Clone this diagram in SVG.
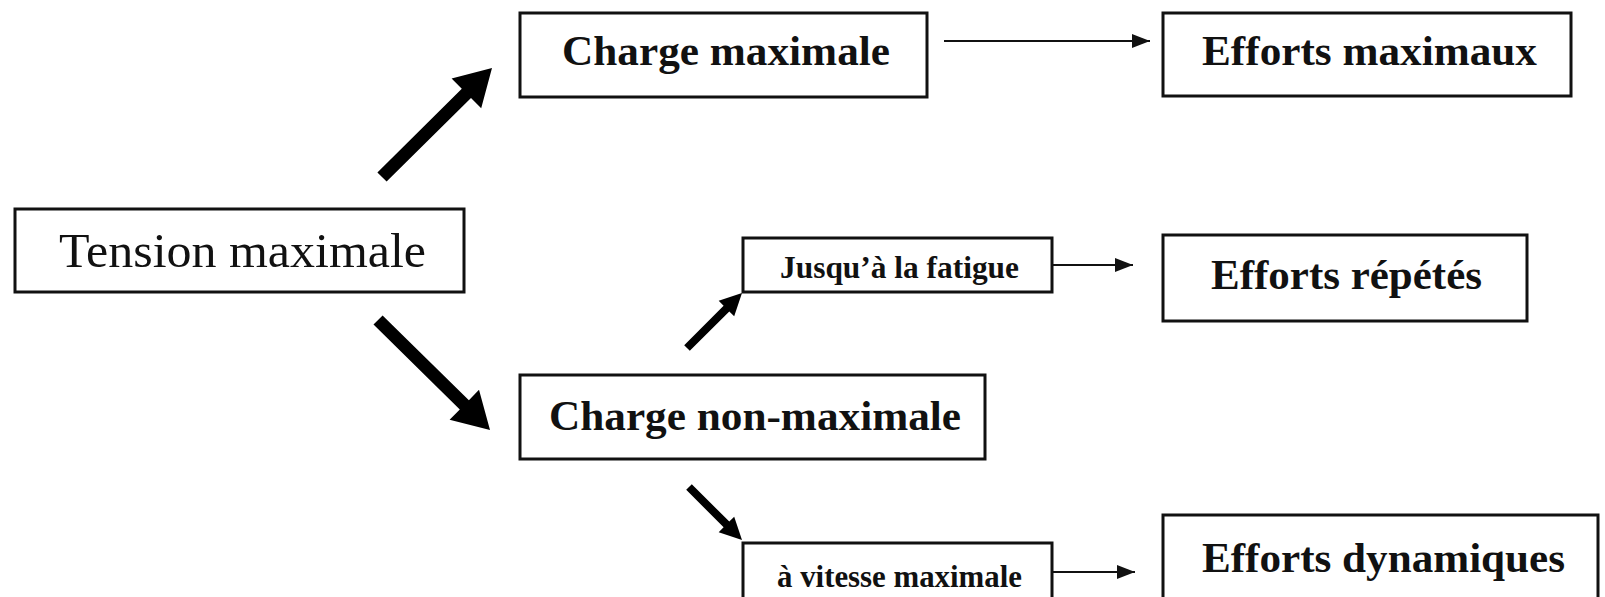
<svg xmlns="http://www.w3.org/2000/svg" width="1605" height="597" viewBox="0 0 1605 597">
<style>
.box{fill:#fff;stroke:#111;stroke-width:3}
.t{font-family:"Liberation Serif","Times New Roman",serif;fill:#111;text-anchor:middle}
.b{font-weight:bold;font-size:43px}
.s{font-weight:bold;font-size:31px}
.r{font-size:48px}
.thin{stroke:#111;stroke-width:2;fill:none}
.thick{fill:#000}
</style>
<defs>
<marker id="ah" markerUnits="userSpaceOnUse" markerWidth="20" markerHeight="16" refX="18" refY="7" orient="auto">
<path d="M0,0 L18,7 L0,14 Z" fill="#111"/>
</marker>
</defs>
<rect width="1605" height="597" fill="#fff"/>
<g id="connectors">
<path class="thick" d="M386.6,181.6 L471,97.9 L481.2,108.2 L492,68 L451.6,78.4 L461.8,88.7 L377.4,172.4 Z"/>
<path class="thick" d="M373.5,324.6 L459.8,409.4 L449.6,419.8 L490,430 L479,389.8 L468.9,400.2 L382.6,315.4 Z"/>
<path class="thick" d="M689.8,350.8 L729.3,311.4 L734.2,316.3 L742,293 L718.7,300.8 L723.6,305.7 L684.2,345.2 Z"/>
<path class="thick" d="M686.2,489.8 L723.6,527.3 L718.7,532.2 L742,540 L734.2,516.7 L729.3,521.6 L691.8,484.2 Z"/>
<line class="thin" x1="944" y1="41" x2="1150" y2="41" marker-end="url(#ah)"/>
<line class="thin" x1="1052" y1="265" x2="1133" y2="265" marker-end="url(#ah)"/>
<line class="thin" x1="1052" y1="572" x2="1135" y2="572" marker-end="url(#ah)"/>
</g>
<g id="tension">
<rect class="box" x="15" y="209" width="449" height="83"/>
<text class="t r" x="242.5" y="267" textLength="367" lengthAdjust="spacingAndGlyphs">Tension maximale</text>
</g>
<g id="charge-max">
<rect class="box" x="520" y="13" width="407" height="84"/>
<text class="t b" x="726" y="65" textLength="328" lengthAdjust="spacingAndGlyphs">Charge maximale</text>
</g>
<g id="efforts-max">
<rect class="box" x="1163" y="13" width="408" height="83"/>
<text class="t b" x="1369.5" y="65" textLength="335" lengthAdjust="spacingAndGlyphs">Efforts maximaux</text>
</g>
<g id="fatigue">
<rect class="box" x="743" y="238" width="309" height="54"/>
<text class="t s" x="899.5" y="278" textLength="239" lengthAdjust="spacingAndGlyphs">Jusqu’à la fatigue</text>
</g>
<g id="efforts-repetes">
<rect class="box" x="1163" y="235" width="364" height="86"/>
<text class="t b" x="1346.5" y="289" textLength="271" lengthAdjust="spacingAndGlyphs">Efforts répétés</text>
</g>
<g id="charge-non-max">
<rect class="box" x="520" y="375" width="465" height="84"/>
<text class="t b" x="755" y="430" textLength="412" lengthAdjust="spacingAndGlyphs">Charge non-maximale</text>
</g>
<g id="vitesse">
<rect class="box" x="743" y="543" width="309" height="62"/>
<text class="t s" x="899.5" y="587" textLength="245" lengthAdjust="spacingAndGlyphs">à vitesse maximale</text>
</g>
<g id="efforts-dyn">
<rect class="box" x="1163" y="515" width="435" height="90"/>
<text class="t b" x="1383.5" y="572" textLength="363" lengthAdjust="spacingAndGlyphs">Efforts dynamiques</text>
</g>
</svg>
